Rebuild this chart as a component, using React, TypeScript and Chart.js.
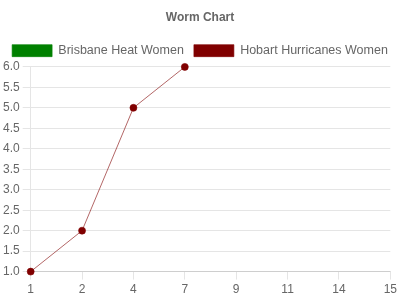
import React, { useEffect, useRef } from "react";
import { Chart, registerables } from "chart.js";

Chart.register(...registerables);

const categories = ["1", "2", "4", "7", "9", "11", "14", "15"];
const brisbaneValues: (number | null)[] = [];
const hobartValues = [1, 2, 5, 6];
const yTicks = { min: 1, max: 6, step: 0.5 };

const FAMILY = "'Liberation Sans', Arial, sans-serif";

export default function App() {
  const ref = useRef<HTMLCanvasElement>(null);
  useEffect(() => {
    document.body.style.margin = "0";
    const chart = new Chart(ref.current!, {
      type: "line",
      data: {
        labels: categories,
        datasets: [
          {
            label: "Brisbane Heat Women",
            data: brisbaneValues,
            backgroundColor: "#008000",
            borderColor: "rgba(0,128,0,0.6)",
            borderWidth: 1,
            fill: false,
            tension: 0,
          },
          {
            label: "Hobart Hurricanes Women",
            data: hobartValues,
            backgroundColor: "#800000",
            borderColor: "rgba(128,0,0,0.6)",
            borderWidth: 1,
            pointRadius: 3.5,
            pointBorderWidth: 1,
            pointBackgroundColor: "#800000",
            pointBorderColor: "rgba(128,0,0,0.6)",
            fill: false,
            tension: 0,
            clip: false as any,
          },
        ],
      },
      options: {
        animation: false,
        responsive: true,
        maintainAspectRatio: false,
        font: { family: FAMILY, size: 12 },
        color: "#666",
        plugins: {
          title: {
            display: true,
            text: "Worm Chart",
            color: "#666",
            font: { family: FAMILY, size: 12, weight: "bold" },
            padding: { top: 10, bottom: 10 },
          },
          legend: {
            labels: {
              boxWidth: 40,
              boxHeight: 12,
              color: "#666",
              padding: 10,
              font: { family: FAMILY, size: 12.5 },
            },
          },
          tooltip: { enabled: false },
        },
        scales: {
          x: {
            grid: { drawOnChartArea: false, color: "rgba(0,0,0,0.1)" },
            ticks: { color: "#666", autoSkip: false, maxRotation: 0, font: { family: FAMILY, size: 12 } },
          },
          y: {
            min: yTicks.min,
            max: yTicks.max,
            grid: { color: "rgba(0,0,0,0.1)" },
            ticks: {
              stepSize: yTicks.step,
              color: "#666",
              font: { family: FAMILY, size: 12 },
              callback: (v: any) => Number(v).toFixed(1),
            },
          },
        },
      },
    });
    return () => chart.destroy();
  }, []);
  return (
    <div style={{ position: "fixed", left: 0, top: 0, width: 400, height: 300 }}>
      <canvas ref={ref} />
    </div>
  );
}
